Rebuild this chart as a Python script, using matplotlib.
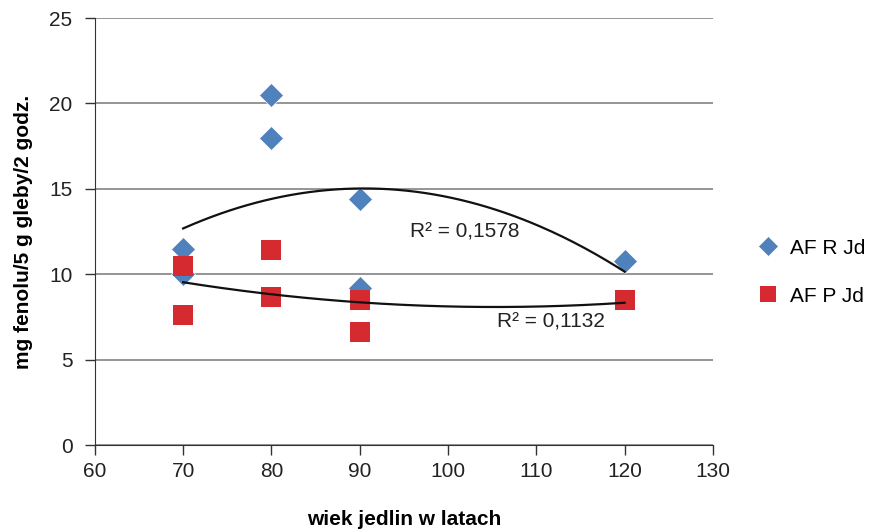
import numpy as np
import matplotlib
matplotlib.use("Agg")
from matplotlib import pyplot as plt

plt.rcParams['font.family'] = ['Liberation Sans', 'DejaVu Sans']

# wiek jedlin (lata) i wartosci
age_r = [70, 70, 80, 80, 90, 90, 120]
af_r = [11.5, 10.0, 20.5, 18.0, 14.4, 9.2, 10.8]
age_p = [70, 70, 80, 80, 90, 90, 120]
af_p = [10.5, 7.6, 11.4, 8.7, 8.5, 6.6, 8.5]
r2_labels = ["R² = 0,1578", "R² = 0,1132"]

fig = plt.figure(figsize=(8.7, 5.3), dpi=100)
ax = fig.add_axes([0.109, 0.160, 0.7105, 0.806])

ax.set_xlim(60, 130)
ax.set_ylim(0, 25)
ax.set_xticks(range(60, 131, 10))
ax.set_yticks(range(0, 26, 5))
ax.yaxis.grid(True, color="#8c8c8c", lw=1.3)
ax.set_axisbelow(True)
for s in ["top", "right"]:
    ax.spines[s].set_visible(False)
ax.spines["left"].set_color("#333333")
ax.spines["bottom"].set_color("#333333")
ax.tick_params(axis="both", labelsize=15, colors="#333333", length=7, width=1,
               labelcolor="#222222")
ax.tick_params(axis="x", pad=5)
ax.tick_params(axis="y", pad=9)

ax.plot(age_r, af_r, "D", color="#4f81bd", ms=12, mec="white", mew=0.5,
        label="AF R Jd", zorder=3)
ax.plot(age_p, af_p, "s", color="#d42a30", ms=14, mec="#d42a30", mew=0,
        label="AF P Jd", zorder=4)

# trendy wielomianowe (st. 2)
xs = np.linspace(70, 120, 200)
for xa, ya in [(age_r, af_r), (age_p, af_p)]:
    c = np.polyfit(xa, ya, 2)
    ax.plot(xs, np.polyval(c, xs), color="#111111", lw=1.6, zorder=5)

ax.text(95.7, 12.45, r2_labels[0], fontsize=15, color="#222222", va="center")
ax.text(105.5, 7.2, r2_labels[1], fontsize=15, color="#222222", va="center")

ax.set_xlabel("wiek jedlin w latach", fontsize=15, fontweight="bold", labelpad=21)
ax.set_ylabel("mg fenolu/5 g gleby/2 godz.", fontsize=15, fontweight="bold", labelpad=12)

leg = ax.legend(loc="center left", bbox_to_anchor=(1.043, 0.405), frameon=False,
                fontsize=15, labelspacing=1.4, handletextpad=0.3, markerscale=0.85,
                handlelength=1.5, borderaxespad=0.2)

fig.savefig("out.png", dpi=100)
